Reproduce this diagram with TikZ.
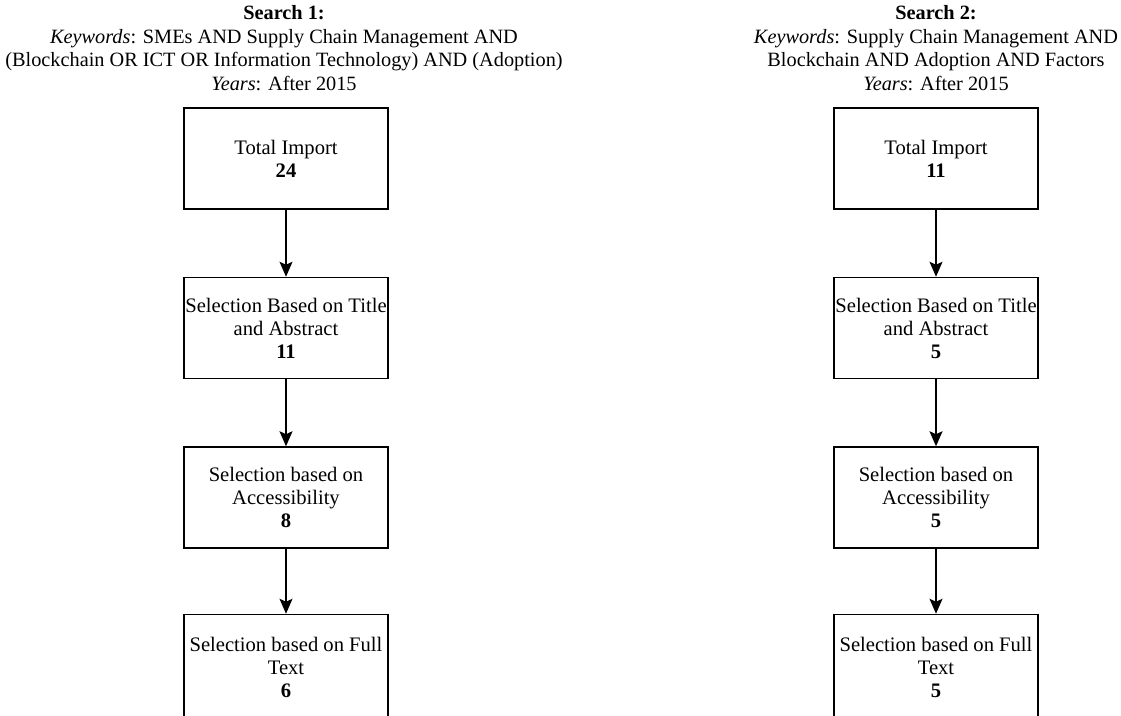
\documentclass[tikz,border=0pt]{standalone}
\usepackage{fontspec}
\setmainfont{Liberation Serif}
\usetikzlibrary{arrows.meta}
\begin{document}
\begin{tikzpicture}[x=1pt,y=-1pt,
  stepbox/.style={draw, line width=1.5pt, minimum width=204pt, minimum height=101pt,
    inner sep=0pt, align=center, font=\fontsize{20.6}{23}\selectfont},
  lastbox/.style={stepbox, minimum height=106pt},
  headtext/.style={align=center, inner sep=0pt, font=\fontsize{20.3}{23.8}\selectfont},
  flow/.style={line width=1.5pt, -{Stealth[inset=3pt,length=15pt,width=13pt]}}]
\useasboundingbox (0,0) rectangle (1121,715);
\clip (0,0) rectangle (1121,715);

% first search column
\node[headtext] (h1) at (284,48) {\textbf{Search 1:}\\\textit{Keywords}: SMEs AND Supply Chain Management AND\\(Blockchain OR ICT OR Information Technology) AND (Adoption)\\\textit{Years}: After 2015};
\node[stepbox] (a1) at (286,158.5) {Total Import\\\textbf{24}};
\node[stepbox] (a2) at (286,328) {Selection Based on Title\\and Abstract\\\textbf{11}};
\node[stepbox] (a3) at (286,497.5) {Selection based on\\Accessibility\\\textbf{8}};
\node[lastbox] (a4) at (286,667.5) {Selection based on Full\\Text\\\textbf{6}};

% second search column
\node[headtext] (h2) at (936,48) {\textbf{Search 2:}\\\textit{Keywords}: Supply Chain Management AND\\Blockchain AND Adoption AND Factors\\\textit{Years}: After 2015};
\node[stepbox] (b1) at (936,158.5) {Total Import\\\textbf{11}};
\node[stepbox] (b2) at (936,328) {Selection Based on Title\\and Abstract\\\textbf{5}};
\node[stepbox] (b3) at (936,497.5) {Selection based on\\Accessibility\\\textbf{5}};
\node[lastbox] (b4) at (936,667.5) {Selection based on Full\\Text\\\textbf{5}};

\draw[flow] (a1) -- (a2);
\draw[flow] (a2) -- (a3);
\draw[flow] (a3) -- (a4);
\draw[flow] (b1) -- (b2);
\draw[flow] (b2) -- (b3);
\draw[flow] (b3) -- (b4);
\end{tikzpicture}
\end{document}
